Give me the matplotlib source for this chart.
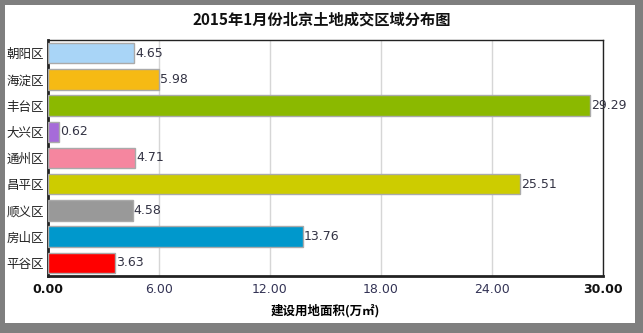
import matplotlib.pyplot as plt
from matplotlib.patches import Rectangle

plt.rcParams['font.family'] = ['Noto Sans CJK SC', 'DejaVu Sans']

districts = ["朝阳区", "海淀区", "丰台区", "大兴区", "通州区", "昌平区", "顺义区", "房山区", "平谷区"]
areas = [4.65, 5.98, 29.29, 0.62, 4.71, 25.51, 4.58, 13.76, 3.63]
colors = ["#a9d5f7", "#f6ba14", "#8bb900", "#a66bd9", "#f5869f", "#cdcc00", "#999999", "#0098cc", "#ff0000"]
ticks = [0, 6, 12, 18, 24, 30]

W, H = 643, 333
fig = plt.figure(figsize=(W / 100, H / 100), dpi=100)
fig.patch.set_facecolor("#7f7f7f")
# white card inside the gray frame
fig.patches.append(Rectangle((5 / W, 10 / H), (635 - 5) / W, (328 - 10) / H,
                             transform=fig.transFigure, facecolor="white",
                             edgecolor="none", zorder=-1))

ax = fig.add_axes([48 / W, 1 - 276 / H, (603 - 48) / W, (276 - 40) / H])
y = list(range(len(districts)))
ax.barh(y, areas, height=0.78, color=colors, edgecolor="#aaaaaa", linewidth=1, zorder=3)
for yi, v in zip(y, areas):
    ax.text(v + 0.05, yi, f"{v:.2f}", va="center", ha="left", fontsize=9,
            color="#333344", family="DejaVu Sans", zorder=4)

ax.set_xlim(0, 30)
ax.set_ylim(len(districts) - 0.5, -0.5)
ax.set_yticks(y)
ax.set_yticklabels(districts, fontsize=9, color="#222222")
ax.set_xticks(ticks)
ax.set_xticklabels([f"{t:.2f}" for t in ticks], fontsize=9, color="#333355",
                   family="DejaVu Sans")
for lbl in (ax.get_xticklabels()[0], ax.get_xticklabels()[-1]):
    lbl.set_fontweight("bold")
    lbl.set_color("#111111")
ax.tick_params(length=0, pad=5)
ax.tick_params(axis="y", pad=3)
ax.grid(axis="x", color="#d6d6d6", linewidth=1, zorder=0)
for side in ("top", "right"):
    ax.spines[side].set_linewidth(1)
    ax.spines[side].set_color("#222222")
for side in ("left", "bottom"):
    ax.spines[side].set_linewidth(2)
    ax.spines[side].set_color("#222222")

ax.set_xlabel("建设用地面积(万㎡)", fontsize=9, fontweight="bold", labelpad=6)
fig.text(0.5, 1 - 20 / H, "2015年1月份北京土地成交区域分布图", ha="center", va="center",
         fontsize=11, fontweight="bold", color="#111111")

fig.savefig("out.png", dpi=100, facecolor=fig.get_facecolor())
